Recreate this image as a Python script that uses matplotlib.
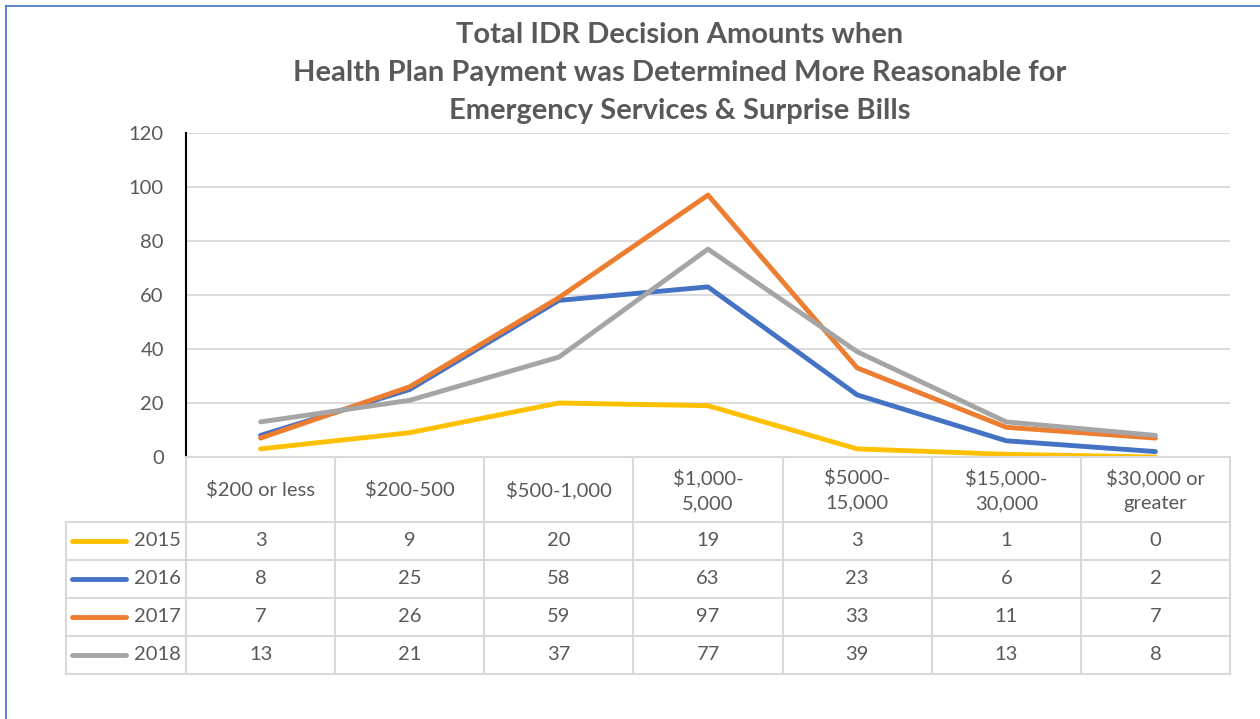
import matplotlib.pyplot as plt
from matplotlib.lines import Line2D

# categories and values per year
categories = ["$200 or less", "$200-500", "$500-1,000", "$1,000-\n5,000",
              "$5000-\n15,000", "$15,000-\n30,000", "$30,000 or\ngreater"]
years = ["2015", "2016", "2017", "2018"]
v2015 = [3, 9, 20, 19, 3, 1, 0]
v2016 = [8, 25, 58, 63, 23, 6, 2]
v2017 = [7, 26, 59, 97, 33, 11, 7]
v2018 = [13, 21, 37, 77, 39, 13, 8]
series = [v2015, v2016, v2017, v2018]
colors = ["#FFC000", "#4472C4", "#ED7D31", "#A5A5A5"]
yticks = [0, 20, 40, 60, 80, 100, 120]

plt.rcParams["font.family"] = ["Lato", "DejaVu Sans"]
txt = "#595959"
grid = "#D9D9D9"

W, H = 1260, 719
fig = plt.figure(figsize=(W / 100, H / 100), dpi=100)

# main plot area
x0, x1, ytop, ybot = 186, 1230, 133, 457
ax = fig.add_axes([x0 / W, 1 - ybot / H, (x1 - x0) / W, (ybot - ytop) / H])
xs = [i + 0.5 for i in range(len(categories))]
for vals, c in zip(series, colors):
    ax.plot(xs, vals, color=c, lw=3.5, solid_capstyle="round", solid_joinstyle="round", zorder=3)
ax.set_xlim(0, len(categories))
ax.set_ylim(0, 120)
ax.set_yticks(yticks)
ax.set_yticklabels([str(t) for t in yticks], fontsize=14.5, color=txt)
ax.tick_params(axis="y", length=0, pad=16)
ax.set_xticks([])
ax.grid(axis="y", color=grid, lw=1.3)
ax.set_axisbelow(True)
for s in ["top", "right", "bottom"]:
    ax.spines[s].set_visible(False)
ax.spines["left"].set_color("black")
ax.spines["left"].set_linewidth(1.5)
ax.spines["left"].set_zorder(4)

# data table below
tl, tb = 66, 674
unit = (x1 - x0) / len(categories)
tax = fig.add_axes([tl / W, 1 - tb / H, (x1 - tl) / W, (tb - ybot) / H])
tax.set_xlim(-(x0 - tl) / unit, len(categories))
tax.set_ylim(tb, ybot)
tax.axis("off")
left = -(x0 - tl) / unit
rows_y = [522, 560, 598, 636, 674]
lw_t = 1.5
tax.plot([0, len(categories)], [ybot, ybot], color=grid, lw=lw_t, clip_on=False)
for y in rows_y:
    tax.plot([left, len(categories)], [y, y], color=grid, lw=lw_t, clip_on=False)
tax.plot([left, left], [rows_y[0], tb], color=grid, lw=lw_t, clip_on=False)
for i in range(len(categories) + 1):
    tax.plot([i, i], [ybot, tb], color=grid, lw=lw_t, clip_on=False)

for i, cat in enumerate(categories):
    tax.text(i + 0.5, (ybot + rows_y[0]) / 2 + 1, cat, ha="center", va="center",
             fontsize=14.5, color=txt, linespacing=1.55)
for r, (yr, vals, c) in enumerate(zip(years, series, colors)):
    yc = (rows_y[r] + rows_y[r + 1]) / 2
    tax.plot([left + 6 / unit, left + 60 / unit], [yc, yc], color=c, lw=3.5,
             solid_capstyle="round", clip_on=False)
    tax.text(-5 / unit, yc, yr, ha="right", va="center", fontsize=14.5, color=txt)
    for i, v in enumerate(vals):
        tax.text(i + 0.5, yc, str(v), ha="center", va="center", fontsize=14.5, color=txt)

# title
fig.text(680 / W, 1 - 73 / H,
         "Total IDR Decision Amounts when\nHealth Plan Payment was Determined More Reasonable for\nEmergency Services & Surprise Bills",
         ha="center", va="center", fontsize=21, fontweight="bold", color=txt, linespacing=1.58)

# chart border (top/left)
bc = "#4472C4"
fig.add_artist(Line2D([6 / W, 6 / W], [0, 1 - 6 / H], color=bc, lw=1.2))
fig.add_artist(Line2D([6 / W, 1], [1 - 6 / H, 1 - 6 / H], color=bc, lw=1.2))

fig.savefig("out.png", dpi=100)
